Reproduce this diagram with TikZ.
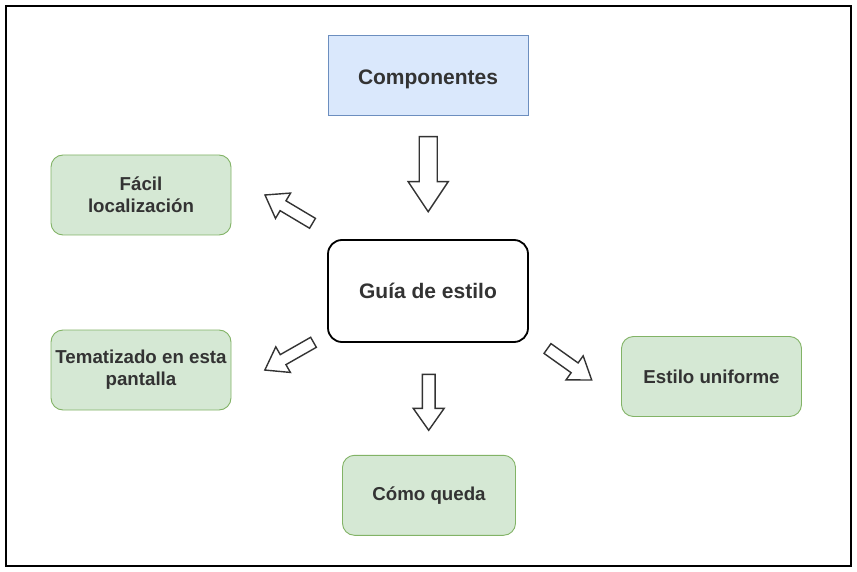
\documentclass[tikz,border=0pt]{standalone}
\usepackage{fontspec}
\setmainfont{Liberation Sans}
\usetikzlibrary{positioning}
\definecolor{azulfondo}{HTML}{DAE8FC}
\definecolor{azulborde}{HTML}{6C8EBF}
\definecolor{verdefondo}{HTML}{D5E8D4}
\definecolor{verdeborde}{HTML}{82B366}
\definecolor{texto}{HTML}{333333}
\def\marco{(6,6) rectangle (851,566)}
% flecha gruesa: cola, angulo, largo, ancho cuerpo, ancho punta, largo punta
\newcommand{\flecha}[6]{%
  \draw[flechalinea,shift={(#1)},rotate=#2]
    (0,-#4/2) -- (#3-#6,-#4/2) -- (#3-#6,-#5/2) -- (#3,0)
    -- (#3-#6,#5/2) -- (#3-#6,#4/2) -- (0,#4/2) -- cycle;}
\tikzset{
  caja/.style={minimum width=180pt, minimum height=80pt, inner sep=0pt,
    text=texto, font=\bfseries\fontsize{18.7}{22}\selectfont, align=center},
  verde/.style={caja, draw=verdeborde, fill=verdefondo, rounded corners=12pt, line width=0.9pt},
  flechalinea/.style={draw=black!80, line width=1.4pt, fill=white, line join=miter}
}
\begin{document}
\begin{tikzpicture}[x=1pt,y=-1pt]
  \useasboundingbox (0,0) rectangle (857,572);
  \draw[line width=2pt] \marco;
  \node[caja, draw=azulborde, fill=azulfondo, minimum width=200pt, line width=0.9pt,
    text height=20pt, text depth=0pt,
    font=\bfseries\fontsize{21}{24}\selectfont] (comp) at (428,75) {Componentes};
  \node[caja, draw=black, rounded corners=14pt, minimum width=200pt, minimum height=102pt,
    line width=1.8pt, font=\bfseries\fontsize{21}{24}\selectfont] (guia) at (428,291) {Guía de estilo};
  \node[verde] (facil) at (141,195) {Fácil\\localización};
  \node[verde] (tema) at (141,370) {Tematizado en esta\\pantalla};
  \node[verde] (unif) at (711.5,376.5) {Estilo uniforme};
  \node[verde, minimum width=173pt] (queda) at (429,495.3) {Cómo queda};
  \flecha{428.2,136.7}{-90}{75}{18}{40}{30}
  \flecha{428.7,374.3}{-90}{56}{12.7}{31}{22}
  \flecha{312.5,223.3}{149.2}{55.3}{11.5}{29.5}{21}
  \flecha{313.5,342.3}{209.7}{56}{11.5}{29.5}{21}
  \flecha{547.5,348.5}{-35.5}{54.3}{12}{29.5}{21}
\end{tikzpicture}
\end{document}
